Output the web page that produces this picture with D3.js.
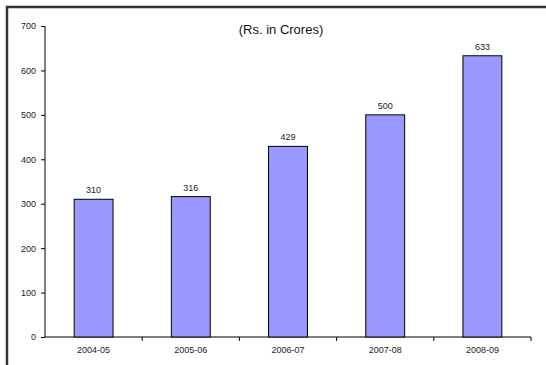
<!DOCTYPE html>
<html>
<head>
<meta charset="utf-8">
<script src="https://cdn.jsdelivr.net/npm/d3@7"></script>
<style>
  body { margin: 0; background: #fff; }
  .axis text { font-family: "Liberation Sans", Arial, sans-serif; font-size: 9px; fill: #222; }
  .axis path, .axis line { stroke: #000; }
</style>
</head>
<body>
<div id="chart"></div>
<script>
var years = ["2004-05", "2005-06", "2006-07", "2007-08", "2008-09"];
var amounts = [310, 316, 429, 500, 633];
var yTicks = [0, 100, 200, 300, 400, 500, 600, 700];
var title = "(Rs. in Crores)";

var width = 546,
    height = 365,
    margin = {top: 26, right: 14, bottom: 28, left: 45};

var svg = d3.select("#chart").append("svg")
    .attr("width", width)
    .attr("height", height);

// frame (top + left only, as in the original)
svg.append("line").attr("x1", 6).attr("x2", width).attr("y1", 7).attr("y2", 7)
    .attr("stroke", "#333").attr("stroke-width", 2.5);
svg.append("line").attr("x1", 7).attr("x2", 7).attr("y1", 6).attr("y2", height)
    .attr("stroke", "#333").attr("stroke-width", 2.5);

var x = d3.scaleBand().domain(years).range([margin.left, width - margin.right - 1]).padding(0),
    y = d3.scaleLinear().domain([0, 700]).range([337, margin.top]);

var g = svg.append("g");

g.append("g")
    .attr("class", "axis")
    .attr("transform", "translate(" + margin.left + ",0)")
    .call(d3.axisLeft(y).tickValues(yTicks).tickSize(4).tickPadding(5))
    .call(function(a) { a.select(".domain").attr("d", "M0," + y(700) + "V" + y(0)); });

var xAxis = g.append("g")
    .attr("class", "axis")
    .attr("transform", "translate(0," + y(0) + ")");
xAxis.append("line")
    .attr("x1", x.range()[0]).attr("x2", x.range()[1])
    .attr("stroke", "#000");
xAxis.selectAll(".sep")
    .data(years)
    .enter().append("line")
      .attr("x1", function(d) { return x(d) + x.bandwidth(); })
      .attr("x2", function(d) { return x(d) + x.bandwidth(); })
      .attr("y1", 0).attr("y2", 4)
      .attr("stroke", "#000");
xAxis.selectAll(".lbl")
    .data(years)
    .enter().append("text")
      .attr("x", function(d) { return x(d) + x.bandwidth() / 2; })
      .attr("y", 16)
      .attr("text-anchor", "middle")
      .text(function(d) { return d; });

var barW = x.bandwidth() * 0.4;

g.selectAll(".bar")
    .data(amounts)
    .enter().append("rect")
      .attr("class", "bar")
      .attr("x", function(d, i) { return x(years[i]) + x.bandwidth() / 2 - barW / 2; })
      .attr("y", function(d) { return y(d); })
      .attr("width", barW)
      .attr("height", function(d) { return y(0) - y(d); })
      .attr("fill", "#9999ff")
      .attr("stroke", "#000")
      .attr("stroke-width", 1);

g.selectAll(".val")
    .data(amounts)
    .enter().append("text")
      .attr("x", function(d, i) { return x(years[i]) + x.bandwidth() / 2; })
      .attr("y", function(d) { return y(d) - 6; })
      .attr("text-anchor", "middle")
      .attr("font-family", "Liberation Sans, Arial, sans-serif")
      .attr("font-size", "9px")
      .attr("fill", "#222")
      .text(function(d) { return d; });

svg.append("text")
    .attr("x", 281)
    .attr("y", 34)
    .attr("text-anchor", "middle")
    .attr("font-family", "Liberation Sans Narrow, Arial Narrow, Liberation Sans, sans-serif")
    .attr("font-size", "13px")
    .attr("fill", "#111")
    .text(title);
</script>
</body>
</html>
